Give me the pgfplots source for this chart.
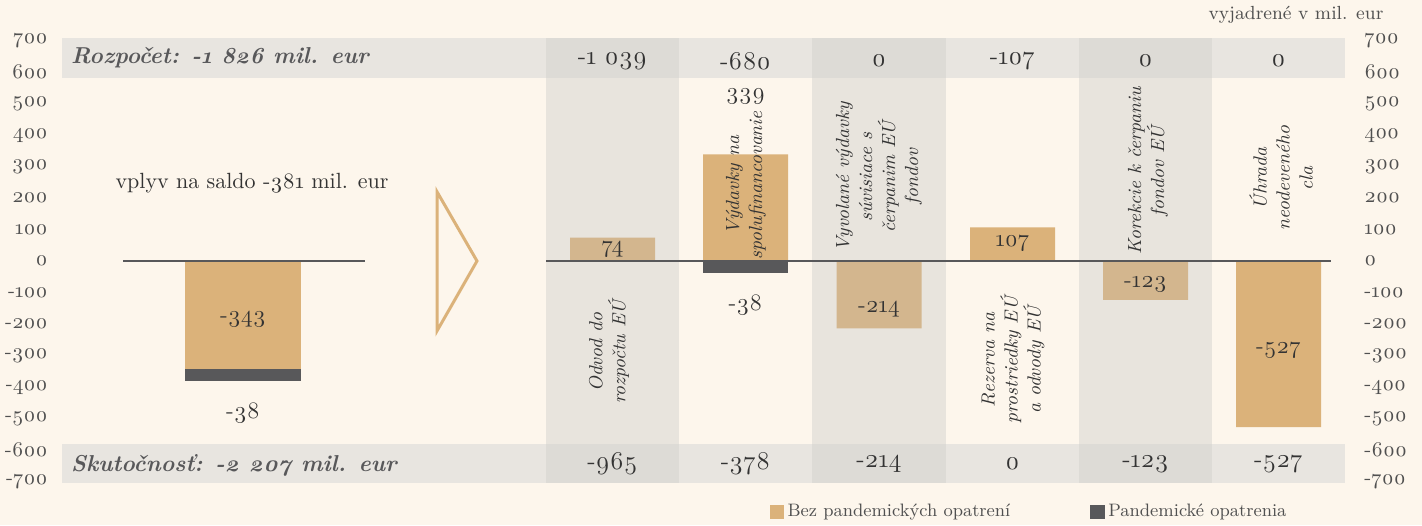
\documentclass[border=0pt]{standalone}
\usepackage{fontspec}
\setmainfont{Latin Modern Roman}[Numbers=OldStyle]
\usepackage{pgfplots}
\pgfplotsset{compat=1.18}
\usetikzlibrary{backgrounds}
\definecolor{cream}{HTML}{FDF6EC}
\definecolor{bandgray}{HTML}{E8E5E0}
\definecolor{colgray}{HTML}{E8E4DD}
\definecolor{overlap}{HTML}{DDDBD6}
\definecolor{tanA}{HTML}{DBB27A}
\definecolor{tanB}{HTML}{D3B68E}
\definecolor{darkbar}{HTML}{58585A}
\definecolor{valtext}{HTML}{333333}
\definecolor{headtext}{HTML}{58585A}
\definecolor{tickgray}{HTML}{505050}
\begin{document}
\begin{tikzpicture}[show background rectangle, background rectangle/.style={fill=cream,draw=none}, inner frame sep=0pt]
\begin{axis}[
  scale only axis, width=656pt, height=223.6pt,
  xmin=50, xmax=1362, ymin=-710, ymax=710,
  clip=false,
  axis line style={draw=none}, major tick length=0pt,
  xtick=\empty,
  ytick={-700,-600,...,700},
  yticklabel style={font=\fontsize{10.5}{12}\selectfont, text=tickgray, inner sep=1pt},
  /pgf/number format/assume math mode=true,
  legend style={at={(axis cs:1030,-797)}, anchor=center, draw=none, fill=none,
    legend columns=2, font=\fontsize{9}{11}\selectfont, text=tickgray,
    /tikz/every even column/.append style={column sep=38pt}, inner sep=0pt},
  legend cell align=left,
]
\coordinate (BL) at (axis cs:0,-838.3);
\coordinate (TR) at (axis cs:1422,828.8);
% column shading
\fill[colgray] (axis cs:546,-705) rectangle (axis cs:679,707);
\fill[colgray] (axis cs:812,-705) rectangle (axis cs:946,707);
\fill[colgray] (axis cs:1079,-705) rectangle (axis cs:1212,707);
% bands
\fill[bandgray] (axis cs:62,581) rectangle (axis cs:1345,707);
\fill[bandgray] (axis cs:62,-705) rectangle (axis cs:1345,-581);
\fill[overlap] (axis cs:546,581) rectangle (axis cs:679,707);
\fill[overlap] (axis cs:812,581) rectangle (axis cs:946,707);
\fill[overlap] (axis cs:1079,581) rectangle (axis cs:1212,707);
\fill[overlap] (axis cs:546,-705) rectangle (axis cs:679,-581);
\fill[overlap] (axis cs:812,-705) rectangle (axis cs:946,-581);
\fill[overlap] (axis cs:1079,-705) rectangle (axis cs:1212,-581);
% bars
\addplot[ybar, bar width=116, bar shift=0pt, fill=darkbar, draw=none, forget plot] coordinates {(243,-381)};
\addplot[ybar, bar width=116, bar shift=0pt, fill=tanA, draw=none, forget plot] coordinates {(243,-343)};
\addplot[ybar, bar width=85, bar shift=0pt, fill=tanA, draw=none, forget plot] coordinates {(745.5,339) (1012.5,107) (1278.5,-527)};
\addplot[ybar, bar width=85, bar shift=0pt, fill=tanB, draw=none, forget plot] coordinates {(612.5,74) (879,-214) (1145.5,-123)};
\addplot[ybar, bar width=85, bar shift=0pt, fill=darkbar, draw=none, forget plot] coordinates {(745.5,-38)};
% zero lines
\addplot[draw=darkbar, line width=0.7pt, forget plot] coordinates {(123,0) (365,0)};
\addplot[draw=darkbar, line width=0.7pt, forget plot] coordinates {(546,0) (1331,0)};
% arrow
\draw[tanA, line width=1.5pt, line join=miter] (axis cs:437,220) -- (axis cs:477,0) -- (axis cs:437,-222) -- cycle;
% headings
\node[anchor=west, font=\bfseries\itshape\fontsize{11.5}{14}\selectfont, text=headtext] at (axis cs:64,645) {Rozpočet: -1 826 mil. eur};
\node[anchor=west, font=\bfseries\itshape\fontsize{11.5}{14}\selectfont, text=headtext] at (axis cs:64,-648) {Skutočnosť: -2 207 mil. eur};
% band values
\begin{scope}[every node/.style={font=\fontsize{12.8}{15}\selectfont, text=valtext}]
\node at (axis cs:612.5,635) {-1 039};
\node at (axis cs:745.5,635) {-680};
\node at (axis cs:879,635) {0};
\node at (axis cs:1012.5,635) {-107};
\node at (axis cs:1145.5,635) {0};
\node at (axis cs:1278.5,635) {0};
\node at (axis cs:612.5,-645) {-965};
\node at (axis cs:745.5,-645) {-378};
\node at (axis cs:879,-645) {-214};
\node at (axis cs:1012.5,-645) {0};
\node at (axis cs:1145.5,-645) {-123};
\node at (axis cs:1278.5,-645) {-527};
\end{scope}
\begin{scope}[every node/.style={font=\fontsize{11.8}{14}\selectfont, text=valtext}]
% bar values
\node at (axis cs:243,-184) {-343};
\node at (axis cs:243,-483) {-38};
\node at (axis cs:612.5,38) {74};
\node at (axis cs:745.5,524) {339};
\node at (axis cs:745.5,-140) {-38};
\node at (axis cs:879,-152) {-214};
\node at (axis cs:1012.5,57) {107};
\node at (axis cs:1145.5,-73) {-123};
\node at (axis cs:1278.5,-283) {-527};
\node[font=\fontsize{11}{13}\selectfont] at (axis cs:252,248) {vplyv na saldo -381 mil. eur};
\end{scope}
% rotated category labels
\begin{scope}[every node/.style={rotate=90, align=center, font=\itshape\fontsize{9.5}{11.5}\selectfont, text=valtext}]
\node at (axis cs:609,-289) {Odvod do\\rozpočtu EÚ};
\node at (axis cs:746,241) {Výdavky na\\spolufinancovanie};
\node at (axis cs:879,267) {Vyvolané výdavky\\súvisiace s\\čerpanim EÚ\\fondov};
\node at (axis cs:1013,-314) {Rezerva na\\prostriedky EÚ\\a odvody EÚ};
\node at (axis cs:1148,286) {Korekcie k čerpaniu\\fondov EÚ};
\node at (axis cs:1281,263) {Úhrada\\neodeveného\\cla};
\end{scope}
\node[font=\fontsize{9.5}{11}\selectfont, text=tickgray] at (axis cs:1296,781) {vyjadrené v mil. eur};
% legend
\addlegendimage{legend image code/.code={\fill[tanA] (0pt,-3.3pt) rectangle (6.6pt,3.3pt);}}
\addlegendentry{Bez pandemických opatrení}
\addlegendimage{legend image code/.code={\fill[darkbar] (0pt,-3.3pt) rectangle (6.6pt,3.3pt);}}
\addlegendentry{Pandemické opatrenia}
\end{axis}
\begin{axis}[
  scale only axis, width=656pt, height=223.6pt,
  xmin=50, xmax=1362, ymin=-710, ymax=710,
  axis line style={draw=none}, major tick length=0pt,
  xtick=\empty,
  ytick={-700,-600,...,700},
  yticklabel pos=right,
  yticklabel style={font=\fontsize{10.5}{12}\selectfont, text=tickgray, inner sep=1pt},
  /pgf/number format/assume math mode=true,
]
\end{axis}
\pgfresetboundingbox
\path[use as bounding box] (BL) rectangle (TR);
\end{tikzpicture}
\end{document}
